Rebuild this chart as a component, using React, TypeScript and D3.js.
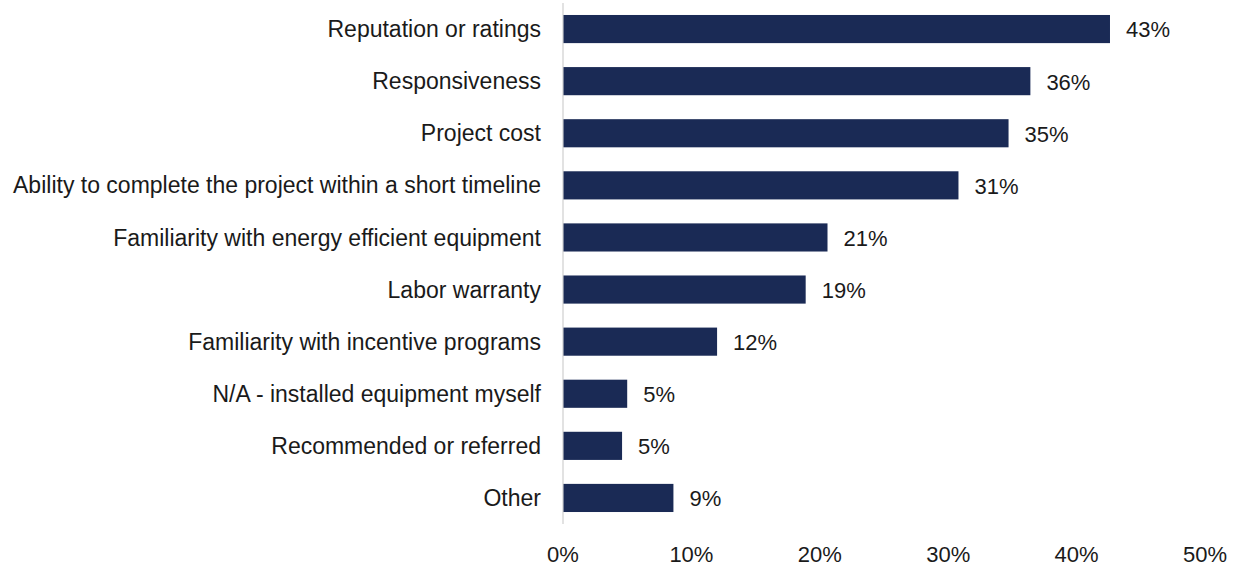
import * as d3 from "d3";
import React, { useEffect, useRef } from "react";

const categories = [
  "Reputation or ratings",
  "Responsiveness",
  "Project cost",
  "Ability to complete the project within a short timeline",
  "Familiarity with energy efficient equipment",
  "Labor warranty",
  "Familiarity with incentive programs",
  "N/A - installed equipment myself",
  "Recommended or referred",
  "Other",
];
const values = [42.6, 36.4, 34.7, 30.8, 20.6, 18.9, 12.0, 5.0, 4.6, 8.6];
const valueLabels = ["43%", "36%", "35%", "31%", "21%", "19%", "12%", "5%", "5%", "9%"];
const ticks = [0, 10, 20, 30, 40, 50];

const App = () => {
  const svgRef = useRef<SVGSVGElement>(null);

  useEffect(() => {
    const width = 1239;
    const height = 567;
    const svg = d3.select(svgRef.current).attr("width", width).attr("height", height);
    svg.selectAll("*").remove();

    const font = "'Liberation Sans', Arial, sans-serif";
    const x = d3.scaleLinear().domain([0, 50]).range([563, 1205]);
    const y = d3
      .scaleBand<string>()
      .domain(categories)
      .range([3, 524])
      .paddingInner(0.46)
      .paddingOuter(0.23);

    // vertical axis line
    svg
      .append("line")
      .attr("x1", x(0))
      .attr("x2", x(0))
      .attr("y1", 3)
      .attr("y2", 524)
      .attr("stroke", "#d9d9d9")
      .attr("stroke-width", 1.5);

    const rows = categories.map((c, i) => ({ c, v: values[i], l: valueLabels[i] }));

    // bars
    svg
      .selectAll("rect.bar")
      .data(rows)
      .enter()
      .append("rect")
      .attr("class", "bar")
      .attr("x", x(0) + 0.5)
      .attr("y", (d) => y(d.c)!)
      .attr("width", (d) => x(d.v) - x(0) - 0.5)
      .attr("height", y.bandwidth())
      .attr("fill", "#1a2a55");

    // category labels
    svg
      .selectAll("text.cat")
      .data(rows)
      .enter()
      .append("text")
      .attr("class", "cat")
      .attr("x", x(0) - 22)
      .attr("y", (d) => y(d.c)! + y.bandwidth() / 2)
      .attr("dy", "0.35em")
      .attr("text-anchor", "end")
      .style("font-family", font)
      .style("font-size", "23px")
      .style("fill", "#1a1a1a")
      .text((d) => d.c);

    // value labels
    svg
      .selectAll("text.val")
      .data(rows)
      .enter()
      .append("text")
      .attr("class", "val")
      .attr("x", (d) => x(d.v) + 16)
      .attr("y", (d) => y(d.c)! + y.bandwidth() / 2)
      .attr("dy", "0.38em")
      .style("font-family", font)
      .style("font-size", "22px")
      .style("fill", "#1a1a1a")
      .text((d) => d.l);

    // x tick labels
    svg
      .selectAll("text.tick")
      .data(ticks)
      .enter()
      .append("text")
      .attr("class", "tick")
      .attr("x", (d) => x(d))
      .attr("y", 561.5)
      .attr("text-anchor", "middle")
      .style("font-family", font)
      .style("font-size", "22px")
      .style("fill", "#1a1a1a")
      .text((d) => `${d}%`);
  }, []);

  return (
    <svg
      ref={svgRef}
      style={{ position: "absolute", left: 0, top: 0, display: "block", background: "#fff" }}
    ></svg>
  );
};

export default App;
